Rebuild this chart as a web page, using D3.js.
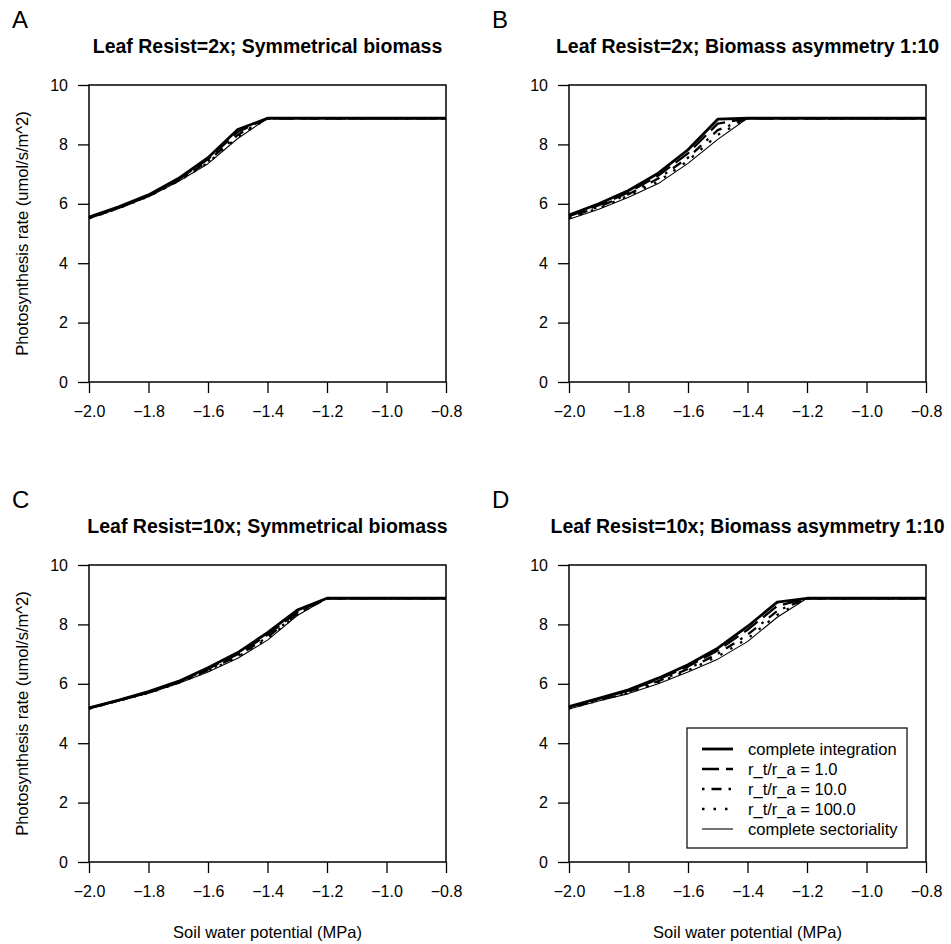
<!DOCTYPE html>
<html>
<head>
<meta charset="utf-8">
<script src="https://cdn.jsdelivr.net/npm/d3@7"></script>
<style>
  html, body { margin: 0; padding: 0; background: #fff; }
  svg { display: block; }
  text { font-family: "Liberation Sans", Arial, Helvetica, sans-serif; fill: #000; }
</style>
</head>
<body>
<svg id="chart" width="951" height="944"></svg>
<script>
// Soil water potential (MPa) sampled every 0.1
const soilWaterPotential = [-2.0, -1.9, -1.8, -1.7, -1.6, -1.5, -1.4, -1.3, -1.2, -1.1, -1.0, -0.9, -0.8];

const xTicks = [-2.0, -1.8, -1.6, -1.4, -1.2, -1.0, -0.8];
const yTicks = [0, 2, 4, 6, 8, 10];

const panelLetters = ["A", "B", "C", "D"];
const panelTitles = [
  "Leaf Resist=2x; Symmetrical biomass",
  "Leaf Resist=2x; Biomass asymmetry 1:10",
  "Leaf Resist=10x; Symmetrical biomass",
  "Leaf Resist=10x; Biomass asymmetry 1:10"
];

const seriesNames = [
  "complete integration",
  "r_t/r_a = 1.0",
  "r_t/r_a = 10.0",
  "r_t/r_a = 100.0",
  "complete sectoriality"
];

// Photosynthesis rate (umol/s/m^2), panel A
const aIntegration   = [5.55, 5.90, 6.30, 6.85, 7.55, 8.50, 8.88, 8.88, 8.88, 8.88, 8.88, 8.88, 8.88];
const aRatio1        = [5.54, 5.88, 6.28, 6.82, 7.50, 8.42, 8.88, 8.88, 8.88, 8.88, 8.88, 8.88, 8.88];
const aRatio10       = [5.52, 5.86, 6.26, 6.78, 7.43, 8.32, 8.88, 8.88, 8.88, 8.88, 8.88, 8.88, 8.88];
const aRatio100      = [5.51, 5.85, 6.25, 6.76, 7.38, 8.25, 8.88, 8.88, 8.88, 8.88, 8.88, 8.88, 8.88];
const aSectoriality  = [5.50, 5.84, 6.24, 6.75, 7.35, 8.20, 8.88, 8.88, 8.88, 8.88, 8.88, 8.88, 8.88];

// panel B
const bIntegration   = [5.62, 6.00, 6.45, 7.03, 7.82, 8.85, 8.88, 8.88, 8.88, 8.88, 8.88, 8.88, 8.88];
const bRatio1        = [5.58, 5.95, 6.38, 6.95, 7.70, 8.70, 8.88, 8.88, 8.88, 8.88, 8.88, 8.88, 8.88];
const bRatio10       = [5.54, 5.90, 6.32, 6.85, 7.55, 8.48, 8.88, 8.88, 8.88, 8.88, 8.88, 8.88, 8.88];
const bRatio100      = [5.52, 5.85, 6.27, 6.75, 7.45, 8.32, 8.88, 8.88, 8.88, 8.88, 8.88, 8.88, 8.88];
const bSectoriality  = [5.48, 5.82, 6.22, 6.68, 7.36, 8.17, 8.88, 8.88, 8.88, 8.88, 8.88, 8.88, 8.88];

// panel C
const cIntegration   = [5.19, 5.45, 5.74, 6.08, 6.54, 7.05, 7.72, 8.48, 8.88, 8.88, 8.88, 8.88, 8.88];
const cRatio1        = [5.18, 5.44, 5.72, 6.06, 6.50, 7.00, 7.65, 8.42, 8.88, 8.88, 8.88, 8.88, 8.88];
const cRatio10       = [5.17, 5.44, 5.70, 6.04, 6.46, 6.94, 7.57, 8.36, 8.88, 8.88, 8.88, 8.88, 8.88];
const cRatio100      = [5.16, 5.43, 5.69, 6.03, 6.43, 6.90, 7.52, 8.33, 8.88, 8.88, 8.88, 8.88, 8.88];
const cSectoriality  = [5.15, 5.42, 5.68, 6.01, 6.40, 6.86, 7.47, 8.30, 8.88, 8.88, 8.88, 8.88, 8.88];

// panel D
const dIntegration   = [5.23, 5.51, 5.80, 6.19, 6.64, 7.20, 7.93, 8.75, 8.88, 8.88, 8.88, 8.88, 8.88];
const dRatio1        = [5.21, 5.49, 5.77, 6.15, 6.58, 7.12, 7.82, 8.62, 8.88, 8.88, 8.88, 8.88, 8.88];
const dRatio10       = [5.19, 5.46, 5.73, 6.09, 6.50, 7.01, 7.65, 8.45, 8.88, 8.88, 8.88, 8.88, 8.88];
const dRatio100      = [5.17, 5.44, 5.70, 6.04, 6.45, 6.92, 7.52, 8.32, 8.88, 8.88, 8.88, 8.88, 8.88];
const dSectoriality  = [5.15, 5.42, 5.67, 6.00, 6.40, 6.83, 7.42, 8.24, 8.88, 8.88, 8.88, 8.88, 8.88];

const panelSeries = [
  [aIntegration, aRatio1, aRatio10, aRatio100, aSectoriality],
  [bIntegration, bRatio1, bRatio10, bRatio100, bSectoriality],
  [cIntegration, cRatio1, cRatio10, cRatio100, cSectoriality],
  [dIntegration, dRatio1, dRatio10, dRatio100, dSectoriality]
];

// line styles per series (same order as seriesNames)
const lineStyles = [
  { width: 2.8, dash: null },
  { width: 2.3, dash: "17,7" },
  { width: 2.3, dash: "2.5,7,10,7" },
  { width: 2.3, dash: "2.5,9" },
  { width: 1.1, dash: null }
];

const svg = d3.select("#chart");
svg.append("rect").attr("width", 951).attr("height", 944).attr("fill", "#fff");

const panelBoxes = [
  { left: 89,  right: 446, top: 85,  bottom: 382 },
  { left: 569, right: 926, top: 85,  bottom: 382 },
  { left: 89,  right: 446, top: 565, bottom: 862 },
  { left: 569, right: 926, top: 565, bottom: 862 }
];

panelBoxes.forEach((box, i) => {
  const x = d3.scaleLinear().domain([-2.0, -0.8]).range([box.left, box.right]);
  const y = d3.scaleLinear().domain([0, 10]).range([box.bottom, box.top]);
  const g = svg.append("g");

  // panel letter
  g.append("text")
    .attr("x", box.left - 77)
    .attr("y", box.top - 57)
    .attr("font-size", 24)
    .text(panelLetters[i]);

  // panel title
  g.append("text")
    .attr("x", (box.left + box.right) / 2)
    .attr("y", box.top - 32)
    .attr("text-anchor", "middle")
    .attr("font-size", 19.5)
    .attr("font-weight", "bold")
    .text(panelTitles[i]);

  // axes
  const xAxis = d3.axisBottom(x)
    .tickValues(xTicks)
    .tickSize(11)
    .tickSizeOuter(0)
    .tickPadding(12.5)
    .tickFormat(d3.format(".1f"));
  const yAxis = d3.axisLeft(y)
    .tickValues(yTicks)
    .tickSize(11)
    .tickSizeOuter(0)
    .tickPadding(10)
    .tickFormat(d3.format("d"));

  const gx = g.append("g").attr("transform", `translate(0,${box.bottom})`).call(xAxis);
  const gy = g.append("g").attr("transform", `translate(${box.left},0)`).call(yAxis);
  [gx, gy].forEach(ax => {
    ax.select(".domain").remove();
    ax.selectAll(".tick line").attr("stroke", "#000").attr("stroke-width", 1.3);
    ax.selectAll(".tick text")
      .attr("fill", "#000")
      .attr("font-size", 16)
      .attr("font-family", "\"Liberation Sans\", Arial, Helvetica, sans-serif");
  });

  // series lines
  const line = d3.line()
    .x((d, k) => x(soilWaterPotential[k]))
    .y(d => y(d));

  const order = [4, 3, 2, 1, 0];
  order.forEach(s => {
    g.append("path")
      .datum(panelSeries[i][s])
      .attr("d", line)
      .attr("fill", "none")
      .attr("stroke", "#000")
      .attr("stroke-width", lineStyles[s].width)
      .attr("stroke-linejoin", "round")
      .attr("stroke-dasharray", lineStyles[s].dash);
  });

  // plot frame
  g.append("rect")
    .attr("x", box.left)
    .attr("y", box.top)
    .attr("width", box.right - box.left)
    .attr("height", box.bottom - box.top)
    .attr("fill", "none")
    .attr("stroke", "#000")
    .attr("stroke-width", 1.5);

  // axis titles on outer panels only
  if (i === 0 || i === 2) {
    g.append("text")
      .attr("transform", `translate(28,${(box.top + box.bottom) / 2}) rotate(-90)`)
      .attr("text-anchor", "middle")
      .attr("font-size", 16.5)
      .text("Photosynthesis rate (umol/s/m^2)");
  }
  if (i === 2 || i === 3) {
    g.append("text")
      .attr("x", (box.left + box.right) / 2)
      .attr("y", box.bottom + 76)
      .attr("text-anchor", "middle")
      .attr("font-size", 16.5)
      .text("Soil water potential (MPa)");
  }

  // legend in the last panel
  if (i === 3) {
    const lg = g.append("g");
    lg.append("rect")
      .attr("x", 687).attr("y", 728)
      .attr("width", 220).attr("height", 120)
      .attr("fill", "#fff")
      .attr("stroke", "#000")
      .attr("stroke-width", 1.2);
    seriesNames.forEach((name, s) => {
      const cy = 749 + s * 20;
      lg.append("line")
        .attr("x1", 702).attr("x2", 733)
        .attr("y1", cy).attr("y2", cy)
        .attr("stroke", "#000")
        .attr("stroke-width", lineStyles[s].width)
        .attr("stroke-dasharray", lineStyles[s].dash);
      lg.append("text")
        .attr("x", 748)
        .attr("y", cy)
        .attr("dy", "0.35em")
        .attr("font-size", 16.5)
        .text(name);
    });
  }
});
</script>
</body>
</html>
